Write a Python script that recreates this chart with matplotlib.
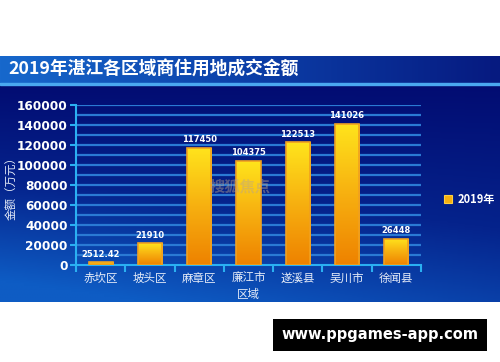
import matplotlib
matplotlib.use("Agg")
import matplotlib.pyplot as plt
import numpy as np
from matplotlib.colors import LinearSegmentedColormap

plt.rcParams['font.family'] = ['Noto Sans CJK SC', 'DejaVu Sans']

# datos
regiones = ['赤坎区', '坡头区', '麻章区', '廉江市', '遂溪县', '吴川市', '徐闻县']
montos = [2512.42, 21910, 117450, 104375, 122513, 141026, 26448]
etiquetas = ['2512.42', '21910', '117450', '104375', '122513', '141026', '26448']
yticks = [0, 20000, 40000, 60000, 80000, 100000, 120000, 140000, 160000]

W, H = 500, 362
fig = plt.figure(figsize=(W/100, H/100), dpi=100)
fig.patch.set_facecolor('white')

def px(x0, y0, x1, y1):
    # rectangulo en pixeles (origen arriba-izquierda) -> coords de figura
    return [x0/W, 1-y1/H, (x1-x0)/W, (y1-y0)/H]

# fondo del grafico (degradado)
bg = fig.add_axes(px(0, 84, 500, 302), zorder=0)
gx, gy = np.meshgrid(np.linspace(0, 1, 200), np.linspace(0, 1, 100))
t = np.clip(0.75*gy + 0.35*(1-gx)*gy, 0, 1)
cm_bg = LinearSegmentedColormap.from_list('bg', ['#020c72', '#05238c', '#0e5cc4'])
bg.imshow(t, cmap=cm_bg, aspect='auto', origin='upper', extent=[0, 1, 1, 0])
bg.axis('off')

# banda del titulo
ban = fig.add_axes(px(0, 56, 500, 83), zorder=0)
tb = np.meshgrid(np.linspace(0, 1, 200), np.linspace(0, 1, 20))[0]
cm_t = LinearSegmentedColormap.from_list('tb', ['#1768cc', '#0c3fa8', '#061a80'])
ban.imshow(tb, cmap=cm_t, aspect='auto')
ban.axis('off')
fig.add_artist(plt.Rectangle((0, 1-84.5/H), 1, 1.5/H, transform=fig.transFigure,
                             color='#4aa8f0', zorder=1))
fig.text(8/W, 1-70/H, '2019年湛江各区域商住用地成交金额', color='white',
         fontsize=12.8, fontweight='bold', va='center', ha='left', zorder=3)

# ejes principales
ax = fig.add_axes(px(76, 105, 421, 265), zorder=2)
ax.patch.set_alpha(0)
x = np.arange(len(regiones))
ax.set_xlim(-0.5, len(regiones)-0.5)
ax.set_ylim(0, 160000)

for v in range(10000, 160001, 10000):
    ax.axhline(v, color='#2a7ad4', lw=1.6, zorder=1)

cm_bar = LinearSegmentedColormap.from_list('bar', ['#ee8200', '#f7b010', '#ffe41c'])
grad = np.linspace(0, 1, 100).reshape(-1, 1)
ancho = 0.49
barras = ax.bar(x, montos, width=ancho, color='none', edgecolor='#f0a020', lw=1.2, zorder=4)
for b, m, lab in zip(barras, montos, etiquetas):
    im = ax.imshow(grad, cmap=cm_bar, aspect='auto', origin='lower',
                   extent=[b.get_x(), b.get_x()+b.get_width(), 0, m], zorder=3)
    im.set_clip_path(b)
    ax.text(b.get_x()+b.get_width()/2, m+3500, lab, color='white', fontsize=6,
            fontweight='bold', ha='center', va='bottom', family='DejaVu Sans', zorder=5)

for s in ['top', 'right']:
    ax.spines[s].set_visible(False)
for s in ['left', 'bottom']:
    ax.spines[s].set_color('#2ab0f2')
    ax.spines[s].set_linewidth(1.5)

ax.set_yticks(yticks)
ax.set_yticklabels([str(v) for v in yticks], color='white', fontsize=8.7,
                   fontweight='bold', family='DejaVu Sans')
ax.tick_params(axis='y', colors='#2ab0f2', length=4, width=1.5, labelcolor='white', pad=2)
ax.set_xticks(np.arange(-0.5, len(regiones), 1), minor=False)
ax.set_xticklabels([])
ax.set_xticks(x, minor=True)
ax.set_xticklabels(regiones, minor=True, color='#e6ecf8', fontsize=8.3)
ax.tick_params(axis='x', which='major', colors='#2ab0f2', length=5, width=1.5)
ax.tick_params(axis='x', which='minor', length=0, pad=5, labelcolor='#e6ecf8')

ax.set_xlabel('区域', color='#e6ecf8', fontsize=8.3, labelpad=2)
ax.set_ylabel('金额（万元）', color='#e6ecf8', fontsize=8.3)
ax.yaxis.set_label_coords(-0.168, 0.5)

# leyenda
fig.add_artist(plt.Rectangle((444/W, 1-203/H), 8/W, 8/H, transform=fig.transFigure,
                             facecolor='#f7b010', edgecolor='#ffd040', lw=0.8, zorder=3))
fig.text(458/W, 1-199/H, '2019年', color='white', fontsize=8, fontweight='bold',
         va='center', ha='left', zorder=3)

# marcas de agua
fig.text(240/W, 1-186/H, '搜狐焦点', color='#b8a48c', alpha=0.45, fontsize=11,
         fontweight='bold', ha='center', va='center', zorder=6)
fig.text(380/W, 1-335/H, 'www.ppgames-app.com', color='white', fontsize=10.5,
         fontweight='bold', ha='center', va='center', family='DejaVu Sans', zorder=6,
         bbox=dict(boxstyle='square,pad=0.55', facecolor='black', edgecolor='none'))

fig.savefig('out.png', dpi=100, facecolor='white')
